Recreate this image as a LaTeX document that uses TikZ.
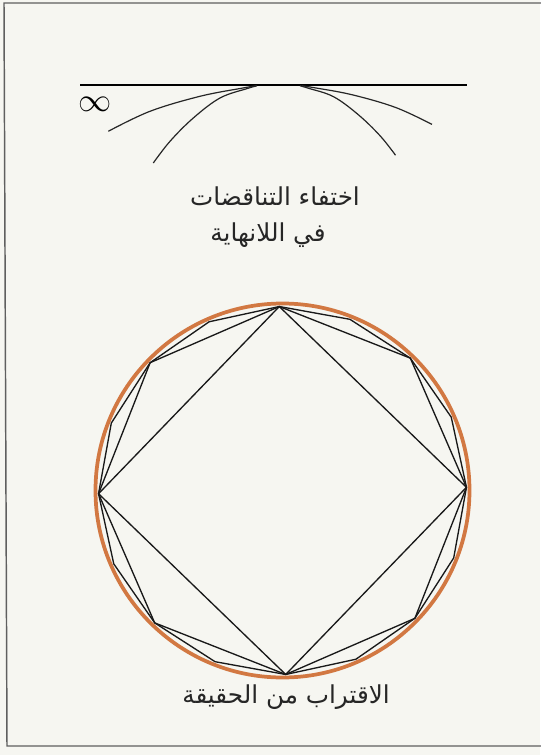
\documentclass[tikz,border=0pt]{standalone}
\usepackage{fontspec}
\newfontfamily\arabicfont[Script=Arabic]{DejaVu Sans}
\TeXXeTstate=1
\definecolor{paper}{RGB}{246,246,241}
\definecolor{framegray}{RGB}{95,95,95}
\definecolor{ringorange}{RGB}{210,120,66}
\begin{document}
\begin{tikzpicture}[x=0.75pt,y=-0.75pt,
  curve/.style={line width=0.9pt,black!85},
  polyline/.style={line width=1pt,black!90,line join=round},
  ring/.style={line width=2.8pt,ringorange},
  caption/.style={font=\arabicfont\fontsize{18.5}{22}\selectfont,inner sep=0pt,text=black!85}]
\useasboundingbox[fill=paper] (0,0) rectangle (540,755);
% frame
\draw[framegray,line width=1.1pt] (545,3) -- (4,3) -- (7,746) -- (545,746);
% top figure
\draw[line width=2.2pt] (80,85) -- (467,85);
\node[inner sep=0pt,font=\fontsize{23}{23}\selectfont] (inf) at (95,104) {$\infty$};
\draw[curve] plot[smooth,tension=0.6] coordinates {(108.3,131.3) (150,111.3) (200,96.3) (243,88) (256,85.8)};
\draw[curve] plot[smooth,tension=0.6] coordinates {(153.3,163) (170,141.3) (193.3,118) (220,98) (246.7,88.7) (257,85.8)};
\draw[curve] plot[smooth,tension=0.6] coordinates {(432,124.4) (395.4,107.4) (351.4,94.6) (313.6,87.6) (302,85.8)};
\draw[curve] plot[smooth,tension=0.6] coordinates {(395.5,155.2) (380,135.7) (358.3,114.7) (333.5,96.7) (308.6,88.3) (300,85.8)};
\node[caption] (t1) at (275,196) {\beginR اختفاء التناقضات\endR};
\node[caption] (t2) at (268,235) {\beginR في اللانهاية\endR};
% circle and polygons
\coordinate (C) at (282.5,490.5);
\draw[ring] (C) circle[radius=187];
\begin{scope}[shift={(C)}]
\foreach \n in {4,8,16}{
  \draw[polyline] (-91:184) \foreach \k in {1,...,\n}{ -- ({-91+360*\k/\n}:184)} -- cycle;
}
\end{scope}
\node[caption] (t3) at (286,697) {\beginR الاقتراب من الحقيقة\endR};
\end{tikzpicture}
\end{document}
